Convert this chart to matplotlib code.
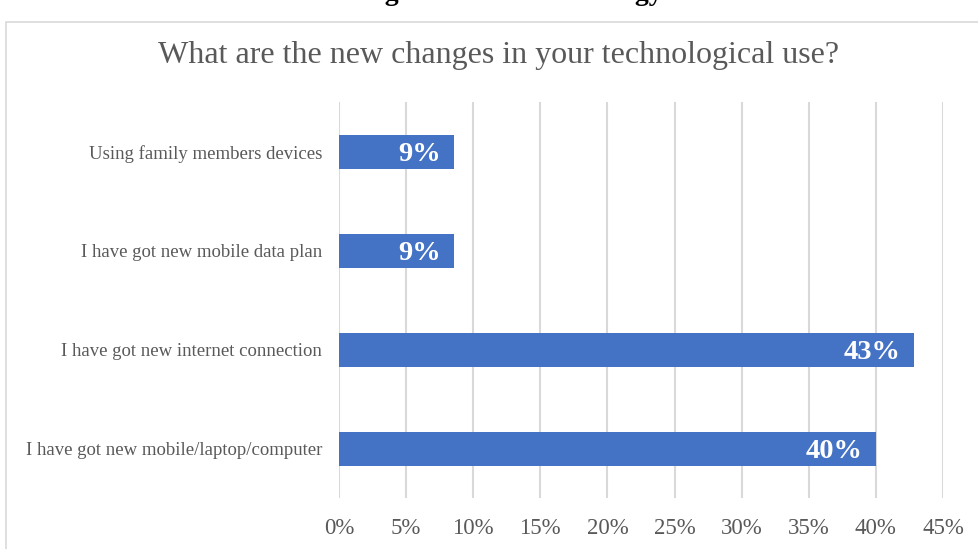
import matplotlib.pyplot as plt
from matplotlib.patches import Rectangle

categories = ['I have got new mobile/laptop/computer',
              'I have got new internet connection',
              'I have got new mobile data plan',
              'Using family members devices']
values = [40.0, 42.86, 8.57, 8.57]
labels = ['40%', '43%', '9%', '9%']
xticks = [0, 5, 10, 15, 20, 25, 30, 35, 40, 45]

plt.rcParams['font.family'] = ['Liberation Serif', 'DejaVu Serif']

fig = plt.figure(figsize=(9.79, 5.49), dpi=100)
ax = fig.add_axes([0.3463, 0.092, 0.6169, 0.7213])

# outer chart border (cut off at right and bottom)
fig.patches.append(Rectangle((0.0061, -0.05), 1.2, 1.0099, transform=fig.transFigure,
                             fill=False, edgecolor='#d9d9d9', linewidth=1.2))

# clipped caption above the chart
fig.text(0.522, 1 - 0.5 / 549, 'Figure 4: New technology', ha='center', va='baseline',
         fontsize=20, fontweight='bold', color='black')

fig.text(0.509, 1 - 63 / 549, 'What are the new changes in your technological use?',
         ha='center', va='baseline', fontsize=23, color='#595959')

y = range(len(categories))
ax.barh(y, values, height=0.35, color='#4472C4', zorder=3)
for i, (v, lab) in enumerate(zip(values, labels)):
    ax.text(v - 1.0, i - 0.03, lab, ha='right', va='center', color='white',
            fontsize=20.5, fontweight='bold', zorder=4)

ax.set_xlim(0, 45)
ax.set_ylim(-0.5, 3.5)
ax.set_xticks(xticks)
ax.set_xticklabels([f'{t}%' for t in xticks], fontsize=16.5, color='#595959')
ax.set_yticks(list(y))
ax.set_yticklabels(categories, fontsize=13.5, color='#595959')
ax.tick_params(axis='both', length=0)
ax.tick_params(axis='x', pad=14)
ax.tick_params(axis='y', pad=12)
ax.grid(axis='x', color='#d9d9d9', linewidth=1.5, zorder=0)
for s in ax.spines.values():
    s.set_visible(False)

fig.savefig('out.png', dpi=100)
